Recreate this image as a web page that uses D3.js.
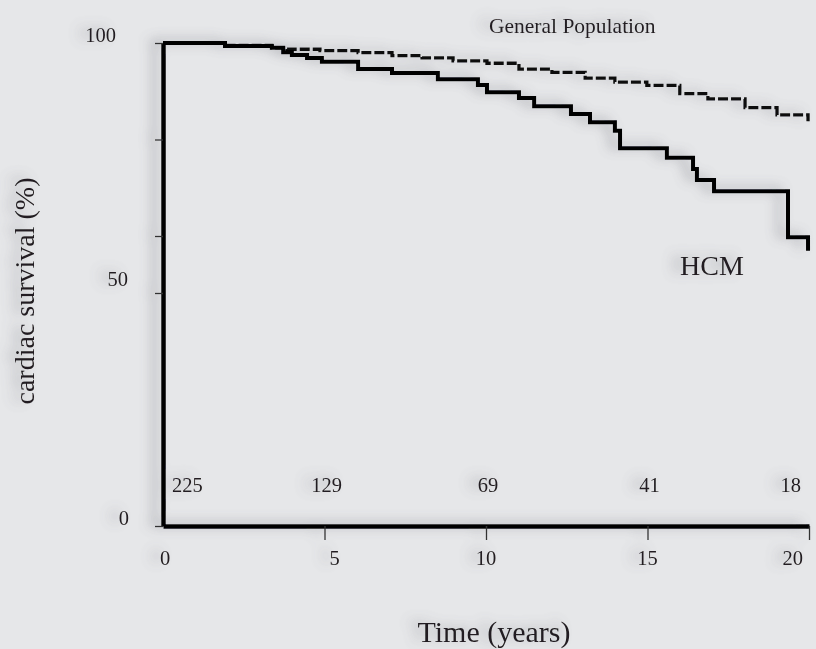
<!DOCTYPE html>
<html>
<head>
<meta charset="utf-8">
<script src="https://cdn.jsdelivr.net/npm/d3@7"></script>
<style>
  html, body { margin: 0; padding: 0; background: #e6e7e9; }
  svg { display: block; }
  text { font-family: "Liberation Serif", "Times New Roman", serif; fill: #231f20; }
</style>
</head>
<body>
<svg id="chart" width="816" height="649"></svg>
<script>
// ---- data ----
const hcmYears = [0, 1.92, 3.37, 3.72, 3.99, 4.46, 4.92, 6.04, 7.09, 8.51, 9.75, 10.03, 11.02, 11.49, 12.63, 13.22, 13.99, 14.15, 15.60, 16.41, 16.53, 17.06, 19.35, 19.97];
const hcmSurv  = [100, 99.4, 99.0, 98.1, 97.5, 96.9, 96.1, 94.6, 93.8, 92.5, 91.3, 89.8, 88.6, 86.9, 85.3, 83.6, 81.8, 78.2, 76.2, 73.9, 71.6, 69.3, 59.8, 57.4];
const genYears = [0, 1.92, 3.37, 3.84, 4.86, 6.04, 7.09, 8.02, 8.98, 10.03, 11.02, 12.04, 13.07, 13.99, 14.98, 16.00, 16.87, 18.02, 19.01, 19.97];
const genSurv  = [100, 99.5, 99.0, 98.7, 98.4, 98.0, 97.4, 96.9, 96.3, 95.8, 94.6, 93.9, 92.7, 91.9, 91.2, 89.5, 88.4, 86.6, 85.1, 83.8];
const xTickLabels = [0, 5, 10, 15, 20];
const xTickMarks = [5, 10, 15, 20];
const yTickMarks = [0, 50, 60, 80, 100];
const yTickLabels = [0, 50, 100];
const atRiskYears = [0, 5, 10, 15, 20];
const atRisk = [225, 129, 69, 41, 18];

// ---- drawing ----
const svg = d3.select("#chart");
const defs = svg.append("defs");
const f = defs.append("filter").attr("id", "shadow")
  .attr("x", "-50%").attr("y", "-50%").attr("width", "200%").attr("height", "200%");
f.append("feGaussianBlur").attr("in", "SourceAlpha").attr("stdDeviation", 6).attr("result", "b");
f.append("feOffset").attr("in", "b").attr("dx", -9).attr("dy", -2).attr("result", "o");
f.append("feFlood").attr("flood-color", "#70717a").attr("flood-opacity", 0.5).attr("result", "c");
f.append("feComposite").attr("in", "c").attr("in2", "o").attr("operator", "in").attr("result", "s");
const m = f.append("feMerge");
m.append("feMergeNode").attr("in", "s");
m.append("feMergeNode").attr("in", "SourceGraphic");

const x = d3.scaleLinear().domain([0, 20]).range([163, 809]);
const y = d3.scaleLinear().domain([0, 50, 60, 100]).range([526, 293, 236, 43]);

const g = svg.append("g").attr("filter", "url(#shadow)");

// y axis
const yAxis = g.append("g").attr("transform", `translate(${x(0)},0)`)
  .call(d3.axisLeft(y).tickValues(yTickMarks).tickSize(8).tickSizeOuter(0).tickFormat(""));
yAxis.select(".domain").attr("stroke", "#000").attr("stroke-width", 4.5);
yAxis.selectAll(".tick line").attr("stroke", "#333").attr("stroke-width", 1.3);

// x axis
const xAxis = g.append("g").attr("transform", `translate(0,${y(0)})`)
  .call(d3.axisBottom(x).tickValues(xTickMarks).tickSize(14).tickSizeOuter(0).tickFormat(""));
xAxis.select(".domain").attr("stroke", "#000").attr("stroke-width", 4.5);
xAxis.selectAll(".tick line").attr("stroke", "#333").attr("stroke-width", 1.3);

// y tick labels
const yLabelNudge = { 0: [129, -1], 50: [128, -7], 100: [116, -1] };
g.selectAll(".ylab").data(yTickLabels).join("text")
  .attr("class", "ylab")
  .attr("x", d => yLabelNudge[d][0])
  .attr("y", d => y(d) + yLabelNudge[d][1])
  .attr("text-anchor", "end")
  .attr("font-size", 20.5)
  .text(d => d);

// x tick labels
const xLabelNudge = { 0: 2, 5: 10, 10: 0, 15: 0, 20: -6 };
g.selectAll(".xlab").data(xTickLabels).join("text")
  .attr("class", "xlab")
  .attr("x", d => x(d) + xLabelNudge[d])
  .attr("y", 565)
  .attr("text-anchor", d => d === 20 ? "end" : "middle")
  .attr("font-size", 20.5)
  .text(d => d);

// numbers at risk
g.selectAll(".risk").data(atRisk).join("text")
  .attr("class", "risk")
  .attr("x", (d, i) => i === 0 ? x(atRiskYears[i]) + 9 : (i === atRisk.length - 1 ? x(atRiskYears[i]) - 8 : x(atRiskYears[i]) + 2))
  .attr("y", 492)
  .attr("text-anchor", (d, i) => i === 0 ? "start" : (i === atRisk.length - 1 ? "end" : "middle"))
  .attr("font-size", 20.5)
  .text(d => d);

// curves
const line = d3.line().curve(d3.curveStepAfter).x(d => x(d[0])).y(d => y(d[1]));
const genData = genYears.map((t, i) => [t, genSurv[i]]);
const hcmData = hcmYears.map((t, i) => [t, hcmSurv[i]]);

g.append("path").datum(genData)
  .attr("d", line).attr("fill", "none").attr("stroke", "#111")
  .attr("stroke-width", 3.3).attr("stroke-dasharray", "10,3");

g.append("path").datum(hcmData)
  .attr("d", line).attr("fill", "none").attr("stroke", "#000")
  .attr("stroke-width", 4);

// annotations
g.append("text").attr("x", 489).attr("y", 33).attr("font-size", 21.5).text("General Population");
g.append("text").attr("x", 680).attr("y", 275).attr("font-size", 28).text("HCM");

// axis titles
g.append("text").attr("x", 494).attr("y", 642).attr("text-anchor", "middle")
  .attr("font-size", 30).text("Time (years)");
g.append("text").attr("transform", "translate(34,291) rotate(-90)")
  .attr("text-anchor", "middle").attr("font-size", 28).text("cardiac survival (%)");
</script>
</body>
</html>
